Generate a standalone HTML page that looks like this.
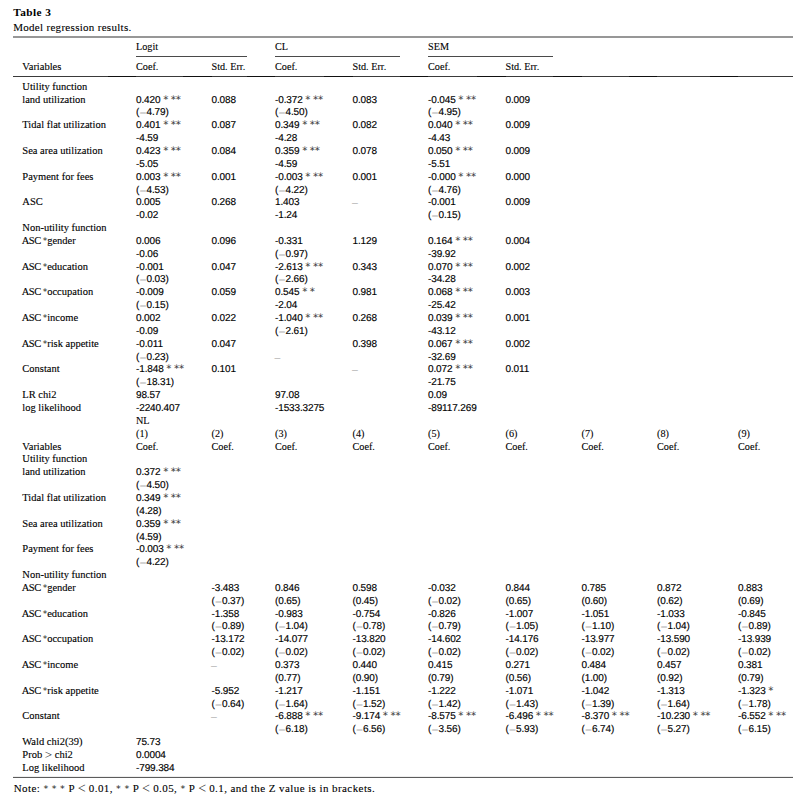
<!DOCTYPE html>
<html><head><meta charset="utf-8"><title>Table 3</title>
<style>
html,body{margin:0;padding:0;background:#fff;}
body{width:805px;height:802px;position:relative;overflow:hidden;color:#000;}
div{position:absolute;white-space:pre;line-height:13px;font-variant-ligatures:none;}
.lab{font-family:'Liberation Serif',serif;font-size:10.5px;color:#000;-webkit-text-stroke:0.12px #000;}
.hdr{font-family:'Liberation Serif',serif;font-size:10.2px;color:#000;-webkit-text-stroke:0.1px #000;}
.num{font-family:'Liberation Sans',sans-serif;font-size:10px;color:#000;-webkit-text-stroke:0.15px #000;text-rendering:geometricPrecision;letter-spacing:-0.13px;}
.title{font-family:'Liberation Serif',serif;font-size:11.3px;font-weight:bold;color:#000;letter-spacing:0.45px;}
.cap{font-family:'Liberation Serif',serif;font-size:11px;color:#000;letter-spacing:0.3px;-webkit-text-stroke:0.1px #000;}
.note{font-family:'Liberation Serif',serif;font-size:11px;color:#000;letter-spacing:0.42px;-webkit-text-stroke:0.1px #000;}
.note s{line-height:0;text-decoration:none;font-family:'DejaVu Sans',sans-serif;font-size:9.5px;color:#222;-webkit-text-stroke:0;}
.note u{text-decoration:none;font-size:14px;line-height:0;color:#333;-webkit-text-stroke:0;vertical-align:-0.5px;letter-spacing:0;}
.lab u{text-decoration:none;font-size:13px;line-height:0;color:#333;-webkit-text-stroke:0;position:relative;top:0.6px;}
.lab s{line-height:0;text-decoration:none;color:#2a2a2a;-webkit-text-stroke:0;font-family:'DejaVu Sans',sans-serif;font-size:9px;margin-left:-0.6px;}
.lab em{font-style:normal;letter-spacing:-0.5px;margin-left:-0.6px;}
.num s{line-height:0;text-decoration:none;color:#3a3a3a;font-family:'DejaVu Sans',sans-serif;font-size:10.3px;word-spacing:-0.2px;letter-spacing:-0.25px;-webkit-text-stroke:0;margin-left:0.1px;}
.num i.m{line-height:0;font-style:normal;color:#a0a0a0;-webkit-text-stroke:0;position:relative;top:1.6px;font-size:12px;letter-spacing:0;margin-left:0.2px;margin-right:0.1px;}
.num b.d{line-height:0;font-weight:normal;color:#b0b0b0;-webkit-text-stroke:0;position:relative;top:0.5px;font-size:10.5px;margin-left:-0.5px;}
.r{position:absolute;height:1px;}
</style></head><body>

<div class="title" style="left:13.20px;top:6.00px">Table 3</div>
<div class="cap" style="left:13.20px;top:21.00px">Model regression results.</div>
<div class="r" style="left:13px;top:36px;width:780px;height:2px;background:#979797"></div>
<div class="r" style="left:136px;top:56px;width:111.0px;background:#4a4a4a"></div>
<div class="r" style="left:275px;top:56px;width:124.5px;background:#4a4a4a"></div>
<div class="r" style="left:428px;top:56px;width:124.6px;background:#4a4a4a"></div>
<div class="r" style="left:13px;top:76px;width:780px;background:#3a3a3a"></div>
<div class="r" style="left:107.5px;top:76px;width:28.5px;background:#111"></div>
<div class="r" style="left:183.0px;top:76px;width:28.5px;background:#111"></div>
<div class="r" style="left:246.5px;top:76px;width:28.5px;background:#111"></div>
<div class="r" style="left:324.0px;top:76px;width:28.5px;background:#111"></div>
<div class="r" style="left:399.5px;top:76px;width:28.5px;background:#111"></div>
<div class="r" style="left:477.0px;top:76px;width:28.5px;background:#111"></div>
<div class="r" style="left:553.0px;top:76px;width:28.5px;background:#111"></div>
<div class="r" style="left:628.5px;top:76px;width:28.5px;background:#111"></div>
<div class="r" style="left:709.5px;top:76px;width:28.5px;background:#111"></div>
<div class="r" style="left:13px;top:776px;width:780px;background:#eeeeee"></div>
<div class="r" style="left:13px;top:777px;width:780px;background:#5c5c5c"></div>
<div class="lab" style="left:22.30px;top:80.00px">Utility function</div>
<div class="lab" style="left:22.30px;top:221.00px">Non-utility function</div>
<div class="lab" style="left:22.30px;top:93.00px">land utilization</div>
<div class="num" style="left:136.00px;top:94.00px">0.420 <s>* **</s></div>
<div class="num" style="left:136.00px;top:106.00px">(<i class="m">−</i>4.79)</div>
<div class="num" style="left:275.00px;top:94.00px">-0.372 <s>* **</s></div>
<div class="num" style="left:275.00px;top:106.00px">(<i class="m">−</i>4.50)</div>
<div class="num" style="left:428.00px;top:94.00px">-0.045 <s>* **</s></div>
<div class="num" style="left:428.00px;top:106.00px">(<i class="m">−</i>4.95)</div>
<div class="num" style="left:211.50px;top:94.00px">0.088</div>
<div class="num" style="left:352.50px;top:94.00px">0.083</div>
<div class="num" style="left:505.50px;top:94.00px">0.009</div>
<div class="lab" style="left:22.30px;top:118.00px">Tidal flat utilization</div>
<div class="num" style="left:136.00px;top:119.00px">0.401 <s>* **</s></div>
<div class="num" style="left:136.00px;top:132.00px">-4.59</div>
<div class="num" style="left:275.00px;top:119.00px">0.349 <s>* **</s></div>
<div class="num" style="left:275.00px;top:132.00px">-4.28</div>
<div class="num" style="left:428.00px;top:119.00px">0.040 <s>* **</s></div>
<div class="num" style="left:428.00px;top:132.00px">-4.43</div>
<div class="num" style="left:211.50px;top:119.00px">0.087</div>
<div class="num" style="left:352.50px;top:119.00px">0.082</div>
<div class="num" style="left:505.50px;top:119.00px">0.009</div>
<div class="lab" style="left:22.30px;top:144.00px">Sea area utilization</div>
<div class="num" style="left:136.00px;top:145.00px">0.423 <s>* **</s></div>
<div class="num" style="left:136.00px;top:158.00px">-5.05</div>
<div class="num" style="left:275.00px;top:145.00px">0.359 <s>* **</s></div>
<div class="num" style="left:275.00px;top:158.00px">-4.59</div>
<div class="num" style="left:428.00px;top:145.00px">0.050 <s>* **</s></div>
<div class="num" style="left:428.00px;top:158.00px">-5.51</div>
<div class="num" style="left:211.50px;top:145.00px">0.084</div>
<div class="num" style="left:352.50px;top:145.00px">0.078</div>
<div class="num" style="left:505.50px;top:145.00px">0.009</div>
<div class="lab" style="left:22.30px;top:170.00px">Payment for fees</div>
<div class="num" style="left:136.00px;top:171.00px">0.003 <s>* **</s></div>
<div class="num" style="left:136.00px;top:184.00px">(<i class="m">−</i>4.53)</div>
<div class="num" style="left:275.00px;top:171.00px">-0.003 <s>* **</s></div>
<div class="num" style="left:275.00px;top:184.00px">(<i class="m">−</i>4.22)</div>
<div class="num" style="left:428.00px;top:171.00px">-0.000 <s>* **</s></div>
<div class="num" style="left:428.00px;top:184.00px">(<i class="m">−</i>4.76)</div>
<div class="num" style="left:211.50px;top:171.00px">0.001</div>
<div class="num" style="left:352.50px;top:171.00px">0.001</div>
<div class="num" style="left:505.50px;top:171.00px">0.000</div>
<div class="lab" style="left:22.30px;top:195.00px">ASC</div>
<div class="num" style="left:136.00px;top:196.00px">0.005</div>
<div class="num" style="left:136.00px;top:209.00px">-0.02</div>
<div class="num" style="left:275.00px;top:196.00px">1.403</div>
<div class="num" style="left:275.00px;top:209.00px">-1.24</div>
<div class="num" style="left:428.00px;top:196.00px">-0.001</div>
<div class="num" style="left:428.00px;top:209.00px">(<i class="m">−</i>0.15)</div>
<div class="num" style="left:211.50px;top:196.00px">0.268</div>
<div class="num" style="left:352.50px;top:196.00px"><b class="d">–</b></div>
<div class="num" style="left:505.50px;top:196.00px">0.009</div>
<div class="lab" style="left:22.30px;top:234.00px"><em>ASC</em> <s>*</s>gender</div>
<div class="num" style="left:136.00px;top:235.00px">0.006</div>
<div class="num" style="left:136.00px;top:248.00px">-0.06</div>
<div class="num" style="left:275.00px;top:235.00px">-0.331</div>
<div class="num" style="left:275.00px;top:248.00px">(<i class="m">−</i>0.97)</div>
<div class="num" style="left:428.00px;top:235.00px">0.164 <s>* **</s></div>
<div class="num" style="left:428.00px;top:248.00px">-39.92</div>
<div class="num" style="left:211.50px;top:235.00px">0.096</div>
<div class="num" style="left:352.50px;top:235.00px">1.129</div>
<div class="num" style="left:505.50px;top:235.00px">0.004</div>
<div class="lab" style="left:22.30px;top:260.00px"><em>ASC</em> <s>*</s>education</div>
<div class="num" style="left:136.00px;top:261.00px">-0.001</div>
<div class="num" style="left:136.00px;top:273.00px">(<i class="m">−</i>0.03)</div>
<div class="num" style="left:275.00px;top:261.00px">-2.613 <s>* **</s></div>
<div class="num" style="left:275.00px;top:273.00px">(<i class="m">−</i>2.66)</div>
<div class="num" style="left:428.00px;top:261.00px">0.070 <s>* **</s></div>
<div class="num" style="left:428.00px;top:273.00px">-34.28</div>
<div class="num" style="left:211.50px;top:261.00px">0.047</div>
<div class="num" style="left:352.50px;top:261.00px">0.343</div>
<div class="num" style="left:505.50px;top:261.00px">0.002</div>
<div class="lab" style="left:22.30px;top:285.00px"><em>ASC</em> <s>*</s>occupation</div>
<div class="num" style="left:136.00px;top:286.00px">-0.009</div>
<div class="num" style="left:136.00px;top:299.00px">(<i class="m">−</i>0.15)</div>
<div class="num" style="left:275.00px;top:286.00px">0.545 <s>* *</s></div>
<div class="num" style="left:275.00px;top:299.00px">-2.04</div>
<div class="num" style="left:428.00px;top:286.00px">0.068 <s>* **</s></div>
<div class="num" style="left:428.00px;top:299.00px">-25.42</div>
<div class="num" style="left:211.50px;top:286.00px">0.059</div>
<div class="num" style="left:352.50px;top:286.00px">0.981</div>
<div class="num" style="left:505.50px;top:286.00px">0.003</div>
<div class="lab" style="left:22.30px;top:311.00px"><em>ASC</em> <s>*</s>income</div>
<div class="num" style="left:136.00px;top:312.00px">0.002</div>
<div class="num" style="left:136.00px;top:325.00px">-0.09</div>
<div class="num" style="left:275.00px;top:312.00px">-1.040 <s>* **</s></div>
<div class="num" style="left:275.00px;top:325.00px">(<i class="m">−</i>2.61)</div>
<div class="num" style="left:428.00px;top:312.00px">0.039 <s>* **</s></div>
<div class="num" style="left:428.00px;top:325.00px">-43.12</div>
<div class="num" style="left:211.50px;top:312.00px">0.022</div>
<div class="num" style="left:352.50px;top:312.00px">0.268</div>
<div class="num" style="left:505.50px;top:312.00px">0.001</div>
<div class="lab" style="left:22.30px;top:337.00px"><em>ASC</em> <s>*</s>risk appetite</div>
<div class="num" style="left:136.00px;top:338.00px">-0.011</div>
<div class="num" style="left:136.00px;top:351.00px">(<i class="m">−</i>0.23)</div>
<div class="num" style="left:275.00px;top:351.00px"><b class="d">–</b></div>
<div class="num" style="left:428.00px;top:338.00px">0.067 <s>* **</s></div>
<div class="num" style="left:428.00px;top:351.00px">-32.69</div>
<div class="num" style="left:211.50px;top:338.00px">0.047</div>
<div class="num" style="left:352.50px;top:338.00px">0.398</div>
<div class="num" style="left:505.50px;top:338.00px">0.002</div>
<div class="lab" style="left:22.30px;top:362.00px">Constant</div>
<div class="num" style="left:136.00px;top:363.00px">-1.848 <s>* **</s></div>
<div class="num" style="left:136.00px;top:376.00px">(<i class="m">−</i>18.31)</div>
<div class="num" style="left:428.00px;top:363.00px">0.072 <s>* **</s></div>
<div class="num" style="left:428.00px;top:376.00px">-21.75</div>
<div class="num" style="left:211.50px;top:363.00px">0.101</div>
<div class="num" style="left:352.50px;top:363.00px"><b class="d">–</b></div>
<div class="num" style="left:505.50px;top:363.00px">0.011</div>
<div class="lab" style="left:22.30px;top:388.00px">LR chi2</div>
<div class="lab" style="left:22.30px;top:401.00px">log likelihood</div>
<div class="num" style="left:136.00px;top:389.00px">98.57</div>
<div class="num" style="left:275.00px;top:389.00px">97.08</div>
<div class="num" style="left:428.00px;top:389.00px">0.09</div>
<div class="num" style="left:136.00px;top:402.00px">-2240.407</div>
<div class="num" style="left:275.00px;top:402.00px">-1533.3275</div>
<div class="num" style="left:428.00px;top:402.00px">-89117.269</div>
<div class="hdr" style="left:136.00px;top:414.00px">NL</div>
<div class="hdr" style="left:136.00px;top:427.00px">(1)</div>
<div class="hdr" style="left:136.00px;top:440.00px">Coef.</div>
<div class="hdr" style="left:211.50px;top:427.00px">(2)</div>
<div class="hdr" style="left:211.50px;top:440.00px">Coef.</div>
<div class="hdr" style="left:275.00px;top:427.00px">(3)</div>
<div class="hdr" style="left:275.00px;top:440.00px">Coef.</div>
<div class="hdr" style="left:352.50px;top:427.00px">(4)</div>
<div class="hdr" style="left:352.50px;top:440.00px">Coef.</div>
<div class="hdr" style="left:428.00px;top:427.00px">(5)</div>
<div class="hdr" style="left:428.00px;top:440.00px">Coef.</div>
<div class="hdr" style="left:505.50px;top:427.00px">(6)</div>
<div class="hdr" style="left:505.50px;top:440.00px">Coef.</div>
<div class="hdr" style="left:581.50px;top:427.00px">(7)</div>
<div class="hdr" style="left:581.50px;top:440.00px">Coef.</div>
<div class="hdr" style="left:657.00px;top:427.00px">(8)</div>
<div class="hdr" style="left:657.00px;top:440.00px">Coef.</div>
<div class="hdr" style="left:738.00px;top:427.00px">(9)</div>
<div class="hdr" style="left:738.00px;top:440.00px">Coef.</div>
<div class="lab" style="left:22.30px;top:440.00px">Variables</div>
<div class="lab" style="left:22.30px;top:452.00px">Utility function</div>
<div class="lab" style="left:22.30px;top:465.00px">land utilization</div>
<div class="num" style="left:136.00px;top:466.00px">0.372 <s>* **</s></div>
<div class="num" style="left:136.00px;top:479.00px">(<i class="m">−</i>4.50)</div>
<div class="lab" style="left:22.30px;top:491.00px">Tidal flat utilization</div>
<div class="num" style="left:136.00px;top:492.00px">0.349 <s>* **</s></div>
<div class="num" style="left:136.00px;top:505.00px">(4.28)</div>
<div class="lab" style="left:22.30px;top:517.00px">Sea area utilization</div>
<div class="num" style="left:136.00px;top:518.00px">0.359 <s>* **</s></div>
<div class="num" style="left:136.00px;top:531.00px">(4.59)</div>
<div class="lab" style="left:22.30px;top:542.00px">Payment for fees</div>
<div class="num" style="left:136.00px;top:543.00px">-0.003 <s>* **</s></div>
<div class="num" style="left:136.00px;top:556.00px">(<i class="m">−</i>4.22)</div>
<div class="lab" style="left:22.30px;top:568.00px">Non-utility function</div>
<div class="lab" style="left:22.30px;top:581.00px"><em>ASC</em> <s>*</s>gender</div>
<div class="num" style="left:211.50px;top:582.00px">-3.483</div>
<div class="num" style="left:211.50px;top:595.00px">(<i class="m">−</i>0.37)</div>
<div class="num" style="left:275.00px;top:582.00px">0.846</div>
<div class="num" style="left:275.00px;top:595.00px">(0.65)</div>
<div class="num" style="left:352.50px;top:582.00px">0.598</div>
<div class="num" style="left:352.50px;top:595.00px">(0.45)</div>
<div class="num" style="left:428.00px;top:582.00px">-0.032</div>
<div class="num" style="left:428.00px;top:595.00px">(<i class="m">−</i>0.02)</div>
<div class="num" style="left:505.50px;top:582.00px">0.844</div>
<div class="num" style="left:505.50px;top:595.00px">(0.65)</div>
<div class="num" style="left:581.50px;top:582.00px">0.785</div>
<div class="num" style="left:581.50px;top:595.00px">(0.60)</div>
<div class="num" style="left:657.00px;top:582.00px">0.872</div>
<div class="num" style="left:657.00px;top:595.00px">(0.62)</div>
<div class="num" style="left:738.00px;top:582.00px">0.883</div>
<div class="num" style="left:738.00px;top:595.00px">(0.69)</div>
<div class="lab" style="left:22.30px;top:607.00px"><em>ASC</em> <s>*</s>education</div>
<div class="num" style="left:211.50px;top:608.00px">-1.358</div>
<div class="num" style="left:211.50px;top:620.00px">(<i class="m">−</i>0.89)</div>
<div class="num" style="left:275.00px;top:608.00px">-0.983</div>
<div class="num" style="left:275.00px;top:620.00px">(<i class="m">−</i>1.04)</div>
<div class="num" style="left:352.50px;top:608.00px">-0.754</div>
<div class="num" style="left:352.50px;top:620.00px">(<i class="m">−</i>0.78)</div>
<div class="num" style="left:428.00px;top:608.00px">-0.826</div>
<div class="num" style="left:428.00px;top:620.00px">(<i class="m">−</i>0.79)</div>
<div class="num" style="left:505.50px;top:608.00px">-1.007</div>
<div class="num" style="left:505.50px;top:620.00px">(<i class="m">−</i>1.05)</div>
<div class="num" style="left:581.50px;top:608.00px">-1.051</div>
<div class="num" style="left:581.50px;top:620.00px">(<i class="m">−</i>1.10)</div>
<div class="num" style="left:657.00px;top:608.00px">-1.033</div>
<div class="num" style="left:657.00px;top:620.00px">(<i class="m">−</i>1.04)</div>
<div class="num" style="left:738.00px;top:608.00px">-0.845</div>
<div class="num" style="left:738.00px;top:620.00px">(<i class="m">−</i>0.89)</div>
<div class="lab" style="left:22.30px;top:632.00px"><em>ASC</em> <s>*</s>occupation</div>
<div class="num" style="left:211.50px;top:633.00px">-13.172</div>
<div class="num" style="left:211.50px;top:646.00px">(<i class="m">−</i>0.02)</div>
<div class="num" style="left:275.00px;top:633.00px">-14.077</div>
<div class="num" style="left:275.00px;top:646.00px">(<i class="m">−</i>0.02)</div>
<div class="num" style="left:352.50px;top:633.00px">-13.820</div>
<div class="num" style="left:352.50px;top:646.00px">(<i class="m">−</i>0.02)</div>
<div class="num" style="left:428.00px;top:633.00px">-14.602</div>
<div class="num" style="left:428.00px;top:646.00px">(<i class="m">−</i>0.02)</div>
<div class="num" style="left:505.50px;top:633.00px">-14.176</div>
<div class="num" style="left:505.50px;top:646.00px">(<i class="m">−</i>0.02)</div>
<div class="num" style="left:581.50px;top:633.00px">-13.977</div>
<div class="num" style="left:581.50px;top:646.00px">(<i class="m">−</i>0.02)</div>
<div class="num" style="left:657.00px;top:633.00px">-13.590</div>
<div class="num" style="left:657.00px;top:646.00px">(<i class="m">−</i>0.02)</div>
<div class="num" style="left:738.00px;top:633.00px">-13.939</div>
<div class="num" style="left:738.00px;top:646.00px">(<i class="m">−</i>0.02)</div>
<div class="lab" style="left:22.30px;top:658.00px"><em>ASC</em> <s>*</s>income</div>
<div class="num" style="left:211.50px;top:659.00px"><b class="d">–</b></div>
<div class="num" style="left:275.00px;top:659.00px">0.373</div>
<div class="num" style="left:275.00px;top:672.00px">(0.77)</div>
<div class="num" style="left:352.50px;top:659.00px">0.440</div>
<div class="num" style="left:352.50px;top:672.00px">(0.90)</div>
<div class="num" style="left:428.00px;top:659.00px">0.415</div>
<div class="num" style="left:428.00px;top:672.00px">(0.79)</div>
<div class="num" style="left:505.50px;top:659.00px">0.271</div>
<div class="num" style="left:505.50px;top:672.00px">(0.56)</div>
<div class="num" style="left:581.50px;top:659.00px">0.484</div>
<div class="num" style="left:581.50px;top:672.00px">(1.00)</div>
<div class="num" style="left:657.00px;top:659.00px">0.457</div>
<div class="num" style="left:657.00px;top:672.00px">(0.92)</div>
<div class="num" style="left:738.00px;top:659.00px">0.381</div>
<div class="num" style="left:738.00px;top:672.00px">(0.79)</div>
<div class="lab" style="left:22.30px;top:684.00px"><em>ASC</em> <s>*</s>risk appetite</div>
<div class="num" style="left:211.50px;top:685.00px">-5.952</div>
<div class="num" style="left:211.50px;top:698.00px">(<i class="m">−</i>0.64)</div>
<div class="num" style="left:275.00px;top:685.00px">-1.217</div>
<div class="num" style="left:275.00px;top:698.00px">(<i class="m">−</i>1.64)</div>
<div class="num" style="left:352.50px;top:685.00px">-1.151</div>
<div class="num" style="left:352.50px;top:698.00px">(<i class="m">−</i>1.52)</div>
<div class="num" style="left:428.00px;top:685.00px">-1.222</div>
<div class="num" style="left:428.00px;top:698.00px">(<i class="m">−</i>1.42)</div>
<div class="num" style="left:505.50px;top:685.00px">-1.071</div>
<div class="num" style="left:505.50px;top:698.00px">(<i class="m">−</i>1.43)</div>
<div class="num" style="left:581.50px;top:685.00px">-1.042</div>
<div class="num" style="left:581.50px;top:698.00px">(<i class="m">−</i>1.39)</div>
<div class="num" style="left:657.00px;top:685.00px">-1.313</div>
<div class="num" style="left:657.00px;top:698.00px">(<i class="m">−</i>1.64)</div>
<div class="num" style="left:738.00px;top:685.00px">-1.323 <s>*</s></div>
<div class="num" style="left:738.00px;top:698.00px">(<i class="m">−</i>1.78)</div>
<div class="lab" style="left:22.30px;top:709.00px">Constant</div>
<div class="num" style="left:211.50px;top:710.00px"><b class="d">–</b></div>
<div class="num" style="left:275.00px;top:710.00px">-6.888 <s>* **</s></div>
<div class="num" style="left:275.00px;top:723.00px">(<i class="m">−</i>6.18)</div>
<div class="num" style="left:352.50px;top:710.00px">-9.174 <s>* **</s></div>
<div class="num" style="left:352.50px;top:723.00px">(<i class="m">−</i>6.56)</div>
<div class="num" style="left:428.00px;top:710.00px">-8.575 <s>* **</s></div>
<div class="num" style="left:428.00px;top:723.00px">(<i class="m">−</i>3.56)</div>
<div class="num" style="left:505.50px;top:710.00px">-6.496 <s>* **</s></div>
<div class="num" style="left:505.50px;top:723.00px">(<i class="m">−</i>5.93)</div>
<div class="num" style="left:581.50px;top:710.00px">-8.370 <s>* **</s></div>
<div class="num" style="left:581.50px;top:723.00px">(<i class="m">−</i>6.74)</div>
<div class="num" style="left:657.00px;top:710.00px">-10.230 <s>* **</s></div>
<div class="num" style="left:657.00px;top:723.00px">(<i class="m">−</i>5.27)</div>
<div class="num" style="left:738.00px;top:710.00px">-6.552 <s>* **</s></div>
<div class="num" style="left:738.00px;top:723.00px">(<i class="m">−</i>6.15)</div>
<div class="lab" style="left:22.30px;top:735.00px">Wald chi2(39)</div>
<div class="lab" style="left:22.30px;top:748.00px">Prob <u>&gt;</u> chi2</div>
<div class="lab" style="left:22.30px;top:761.00px">Log likelihood</div>
<div class="num" style="left:136.00px;top:736.00px">75.73</div>
<div class="num" style="left:136.00px;top:749.00px">0.0004</div>
<div class="num" style="left:136.00px;top:762.00px">-799.384</div>
<div class="hdr" style="left:136.00px;top:40.00px">Logit</div>
<div class="hdr" style="left:275.00px;top:40.00px">CL</div>
<div class="hdr" style="left:428.00px;top:40.00px">SEM</div>
<div class="lab" style="left:22.30px;top:60.00px">Variables</div>
<div class="hdr" style="left:136.00px;top:60.00px">Coef.</div>
<div class="hdr" style="left:211.50px;top:60.00px">Std. Err.</div>
<div class="hdr" style="left:275.00px;top:60.00px">Coef.</div>
<div class="hdr" style="left:352.50px;top:60.00px">Std. Err.</div>
<div class="hdr" style="left:428.00px;top:60.00px">Coef.</div>
<div class="hdr" style="left:505.50px;top:60.00px">Std. Err.</div>
<div class="note" style="left:13.70px;top:782.00px">Note: <s>*</s> <s>*</s> <s>*</s> P <u>&lt;</u> 0.01, <s>*</s> <s>*</s> P <u>&lt;</u> 0.05, <s>*</s> P <u>&lt;</u> 0.1, and the Z value is in brackets.</div>
</body></html>
